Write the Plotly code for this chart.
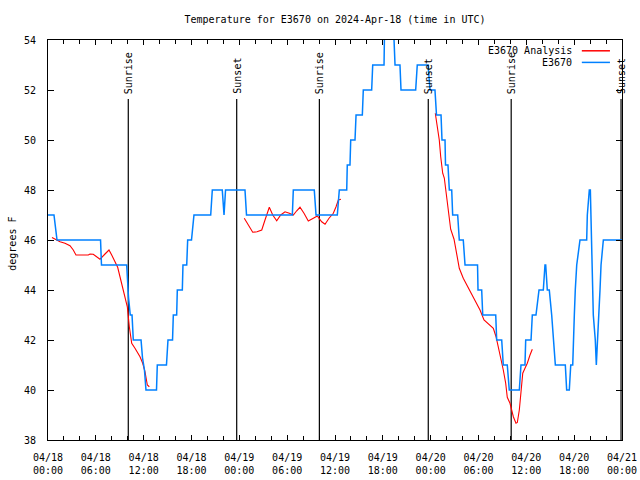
import pandas as pd
import plotly.graph_objects as go

BASE = pd.Timestamp("2024-04-18 00:00")
FONT = "DejaVu Sans Mono"

# observed station temperature (hours since 04/18 00:00 UTC, degrees F)
obs_hours = [0.0, 0.75, 1.13, 6.59, 6.71, 9.87, 10.10, 10.32, 10.54, 10.70, 11.67, 11.85, 12.10, 12.29,
             13.61, 13.71, 14.86, 15.05, 15.62, 15.72, 16.14, 16.22, 16.85, 16.93, 17.40, 17.52, 18.00,
             18.31, 20.41, 20.61, 21.86, 22.08, 22.27, 24.71, 24.90, 30.65, 30.77, 33.40, 33.62, 36.29,
             36.54, 37.47, 37.54, 37.88, 37.97, 38.51, 38.64, 39.43, 39.55, 40.60, 40.73, 42.15, 42.24,
             43.28, 43.53, 44.15, 44.28, 46.12, 46.32, 47.67, 47.92, 48.54, 48.73, 49.30, 49.42, 49.80,
             49.86, 50.17, 50.34, 50.64, 50.76, 51.39, 51.59, 52.09, 52.31, 53.88, 53.94, 54.40, 54.53,
             56.16, 56.28, 56.91, 57.11, 57.61, 57.86, 59.12, 59.33, 59.83, 59.92, 60.59, 60.75, 61.21,
             61.59, 62.13, 62.34, 62.43, 62.63, 62.88, 63.18, 63.38, 63.64, 64.89, 65.06, 65.39, 65.57,
             65.82, 65.89, 66.02, 66.14, 66.32, 66.73, 67.57, 67.65, 67.90, 68.03, 68.11, 68.24, 68.40,
             68.65, 68.78, 68.93, 69.12, 69.24, 69.37, 69.66, 72.0]
obs_temp = [47, 47, 46, 46, 45, 45, 43.7, 43, 43, 42, 42, 41.3, 40.8, 40,
            40, 41, 41, 42, 42, 43, 43, 44, 44, 45, 45, 46, 46,
            47, 47, 48, 48, 47, 48, 48, 47, 47, 48, 48, 47, 47,
            48, 48, 49, 49, 50, 50, 51, 51, 52, 52, 53, 53, 55,
            55, 53, 53, 52, 52, 53, 53, 52, 52, 51, 51, 50, 50,
            49, 49, 48, 48, 47, 47, 46, 46, 45, 45, 44, 44, 43,
            43, 42, 42, 41, 41, 40, 40, 41, 41, 42, 42, 43, 43,
            44, 44, 45, 45, 44, 44, 43, 42, 41, 41, 40, 40, 41,
            41, 42, 43, 44, 45, 46, 46, 47, 48, 48, 47, 46, 43,
            42, 41, 42, 43, 44, 45, 46, 46]

# analysis temperature (three runs, separated by gaps)
ana_hours = [0.50, 0.88, 1.51, 2.13, 2.76, 3.17, 3.51, 5.06, 5.27, 5.68, 6.11, 6.52, 7.15, 7.65, 7.99,
             8.40, 8.74, 9.03, 9.45, 9.95, 10.20, 10.50, 10.91, 11.54, 11.88, 12.17, 12.46, 12.71,
             None,
             24.62, 25.13, 25.68, 26.22, 26.81, 27.22, 27.76, 28.19, 28.69, 29.19, 29.73, 30.27, 30.77,
             31.20, 31.61, 32.11, 32.65, 33.28, 33.78, 34.33, 34.75, 35.25, 35.79, 36.13, 36.42, 36.75,
             None,
             48.58, 48.88, 49.08, 49.26, 49.51, 49.71, 49.92, 50.34, 50.51, 50.93, 51.27, 51.59, 52.09,
             52.60, 53.15, 53.65, 54.19, 54.69, 55.44, 55.86, 56.20, 56.61, 56.91, 57.11, 57.41, 57.61,
             57.95, 58.37, 58.70, 58.87, 59.12, 59.33, 59.55, 59.83, 60.12, 60.46, 60.75]
ana_temp = [46.1, 46.04, 45.93, 45.87, 45.77, 45.6, 45.4, 45.4, 45.44, 45.43, 45.33, 45.23, 45.44, 45.6, 45.4,
            45.13, 44.91, 44.53, 44.0, 43.33, 42.53, 41.87, 41.67, 41.33, 41.07, 40.73, 40.2, 40.13,
            None,
            46.87, 46.6, 46.31, 46.33, 46.4, 46.8, 47.31, 47.0, 46.77, 47.0, 47.13, 47.07, 47.0,
            47.17, 47.31, 47.07, 46.76, 46.87, 46.96, 46.73, 46.63, 46.87, 47.07, 47.33, 47.6, 47.63,
            None,
            51.07, 50.4, 50.0, 49.33, 48.67, 48.48, 47.97, 47.0, 46.43, 46.03, 45.4, 44.87, 44.47,
            44.16, 43.89, 43.53, 43.2, 42.8, 42.6, 42.47, 42.13, 41.53, 41.2, 40.8, 40.27, 39.71,
            39.47, 38.93, 38.67, 38.7, 39.2, 40.0, 40.67, 40.87, 41.07, 41.4, 41.63]

sun_hours = [10.07, 23.67, 34.04, 47.70, 58.10, 71.88]
sun_labels = ["Sunrise", "Sunset", "Sunrise", "Sunset", "Sunrise", "Sunset"]


def to_time(hours):
    return [None if h is None else BASE + pd.Timedelta(hours=h) for h in hours]


fig = go.Figure()
fig.add_trace(go.Scatter(x=to_time(ana_hours), y=ana_temp, mode="lines", name="E3670 Analysis",
                         line=dict(color="#ff0000", width=1.1), connectgaps=False))
fig.add_trace(go.Scatter(x=to_time(obs_hours), y=obs_temp, mode="lines", name="E3670",
                         line=dict(color="#0080ff", width=1.5)))

for h, lab in zip(sun_hours, sun_labels):
    t = BASE + pd.Timedelta(hours=h)
    fig.add_shape(type="line", x0=t, x1=t, xref="x", yref="paper", y0=0, y1=0.8525,
                  line=dict(color="black", width=1.2), layer="below")
    fig.add_annotation(x=t, y=0.86, xref="x", yref="paper", text=lab, textangle=-90,
                       showarrow=False, xanchor="center", yanchor="bottom",
                       font=dict(family=FONT, size=10, color="black"))

# manual gnuplot-style legend (text then sample line)
legend_rows = [("E3670 Analysis", "#ff0000", 0.973), ("E3670", "#0080ff", 0.944)]
for text, col, yy in legend_rows:
    fig.add_annotation(x=0.9164, y=yy, xref="paper", yref="paper", text=text, showarrow=False,
                       xanchor="right", yanchor="middle", font=dict(family=FONT, size=10, color="black"))
    fig.add_shape(type="line", xref="paper", yref="paper", x0=0.930, x1=0.979, y0=yy, y1=yy,
                  line=dict(color=col, width=1.5))

fig.add_annotation(x=-0.0632, y=0.49, xref="paper", yref="paper", text="degrees F", textangle=-90,
                   showarrow=False, xanchor="center", yanchor="middle",
                   font=dict(family=FONT, size=10, color="black"))

fig.update_layout(
    width=640, height=480, autosize=False,
    margin=dict(l=48, r=18, t=40, b=40, autoexpand=False),
    paper_bgcolor="white", plot_bgcolor="white",
    showlegend=False,
    font=dict(family=FONT, size=10, color="black"),
    title=dict(text="Temperature for E3670 on 2024-Apr-18 (time in UTC)", x=0.5, xref="paper",
               xanchor="center", y=1 - 19 / 480, yref="container", yanchor="middle",
               font=dict(family=FONT, size=10, color="black")),
)
fig.update_xaxes(
    type="date", range=[BASE, BASE + pd.Timedelta(hours=72)], automargin=False,
    tick0=BASE, dtick=6 * 3600 * 1000, tickformat="%m/%d<br>%H:%M",
    ticks="inside", ticklen=5, tickcolor="black", showline=True, linecolor="black", linewidth=1,
    mirror="allticks", showgrid=False, zeroline=False, ticklabelstandoff=8,
    minor=dict(dtick=2 * 3600 * 1000, ticks="inside", ticklen=4, tickcolor="black", showgrid=False),
)
fig.update_yaxes(
    range=[38, 54], dtick=2, tick0=38, automargin=False,
    ticks="inside", ticklen=6, tickcolor="black", showline=True, linecolor="black", linewidth=1,
    mirror="allticks", showgrid=False, zeroline=False, ticklabelstandoff=9,
)

fig.write_html("out.html", config={"displayModeBar": False, "responsive": False},
               post_script="document.body.style.margin='0';document.body.style.overflow='hidden';")
